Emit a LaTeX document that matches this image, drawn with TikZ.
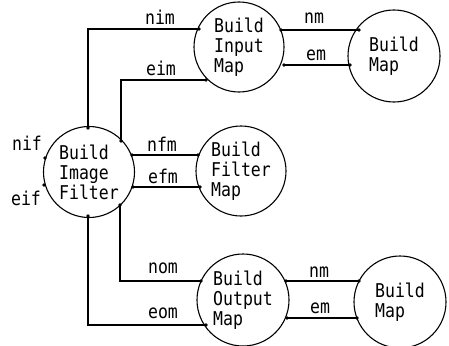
\documentclass[tikz,border=0pt]{standalone}
\usepackage{fontspec}
\newfontfamily\plotfont[FakeStretch=0.87]{DejaVu Sans Mono}
\begin{document}
\begin{tikzpicture}[x=1pt,y=-1pt,
  every node/.style={font=\plotfont\fontsize{19}{20}\selectfont},
  proc/.style={draw,circle,line width=1.1pt,inner sep=0pt,align=left},
  wire/.style={line width=1.1pt},
  lbl/.style={anchor=base,inner sep=0pt},
  port/.style={fill,circle,inner sep=0pt,minimum size=3.6pt}]
\useasboundingbox[fill=white] (0,0) rectangle (449,345);
% processes
\node[proc,minimum size=91pt] (IF) at (89,172) {Build\\Image\\Filter};
\node[proc,minimum size=90pt] (IM) at (239,47) {Build\\Input\\Map};
\node[proc,minimum size=92pt] (BM1) at (394,56) {Build\\Map};
\node[proc,minimum size=90pt] (FM) at (241,171) {Build\\Filter\\Map};
\node[proc,minimum size=92pt] (OM) at (243,300) {Build\\Output\\Map};
\node[proc,minimum size=92pt] (BM2) at (400,302) {Build\\Map};
% ports
\coordinate (ifT) at (88,128);
\coordinate (ifA) at (121,141);
\coordinate (ifB) at (132,155);
\coordinate (ifC) at (133,187);
\coordinate (ifD) at (120,205);
\coordinate (ifS) at (88,216);
\coordinate (nifP) at (45,158);
\coordinate (eifP) at (44,185);
\coordinate (imA) at (199,29);
\coordinate (imB) at (206,80);
\coordinate (imC) at (281,30);
\coordinate (imD) at (284,65);
\coordinate (bmA) at (359,30);
\coordinate (bmB) at (350,65);
\coordinate (fmA) at (198,155);
\coordinate (fmB) at (200,187);
\coordinate (omA) at (201,281);
\coordinate (omB) at (206,325);
\coordinate (omC) at (286,281);
\coordinate (omD) at (287,318);
\coordinate (bnA) at (359,281);
\coordinate (bnB) at (357,318);
% connectors
\draw[wire] (ifT) |- (imA);
\draw[wire] (ifA) |- (imB);
\draw[wire] (imC) -- (bmA);
\draw[wire] (imD) -- (bmB);
\draw[wire] (ifB) -- (fmA);
\draw[wire] (ifC) -- (fmB);
\draw[wire] (ifD) |- (omA);
\draw[wire] (ifS) |- (omB);
\draw[wire] (omC) -- (bnA);
\draw[wire] (omD) -- (bnB);
\foreach \p in {ifT,ifA,ifB,ifC,ifD,ifS,nifP,eifP,imA,imB,imC,imD,bmA,bmB,fmA,fmB,omA,omB,omC,omD,bnA,bnB}
  \node[port] at (\p) {};
% labels
\node[lbl] (l1) at (160,25) {nim};
\node[lbl] (l2) at (161,75) {eim};
\node[lbl] (l3) at (314,24) {nm};
\node[lbl] (l4) at (316,60) {em};
\node[lbl] (l5) at (162,151) {nfm};
\node[lbl] (l6) at (163,183) {efm};
\node[lbl] (l7) at (163,273) {nom};
\node[lbl] (l8) at (163,318) {eom};
\node[lbl] (l9) at (319,277) {nm};
\node[lbl] (l10) at (320,313) {em};
\node[lbl] (l11) at (27,150) {nif};
\node[lbl] (l12) at (26,205) {eif};
\end{tikzpicture}
\end{document}
